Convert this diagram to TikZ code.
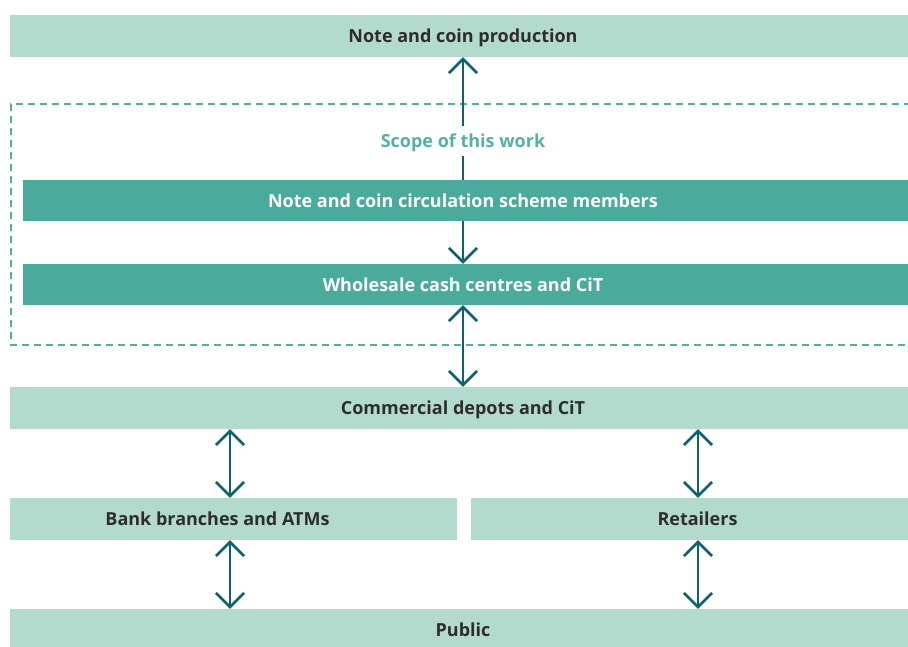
\documentclass[tikz,border=0pt]{standalone}
\usepackage{fontspec}
\setmainfont{Open Sans}
\usepackage{color}
\definecolor{mymint}{RGB}{179,219,205}
\definecolor{myteal}{RGB}{74,170,155}
\definecolor{mydash}{RGB}{78,176,160}
\definecolor{myscope}{RGB}{86,178,160}
\definecolor{myarrow}{RGB}{14,98,112}
\definecolor{mytext}{RGB}{45,45,45}
\usepackage{tikz}
\usetikzlibrary{arrows.meta,positioning,calc}
\tikzstyle{lightbar}=[fill=mymint,rectangle,inner sep=0pt,minimum height=42pt,text height=13pt,text depth=0pt,text=mytext,font=\fontsize{18}{21}\selectfont\bfseries]
\tikzstyle{darkbar}=[fill=myteal,rectangle,inner sep=0pt,minimum height=41pt,text height=13pt,text depth=0pt,text=white,font=\fontsize{18}{21}\selectfont\bfseries]
\tikzstyle{scopelabel}=[fill=white,inner xsep=4pt,inner ysep=8pt,text height=13pt,text depth=0pt,text=myscope,font=\fontsize{18}{21}\selectfont\bfseries]
\tikzstyle{flow}=[draw=myarrow,line width=2.6pt,arrows={-Straight Barb[length=14pt,width=28pt]}]
\tikzstyle{twoway}=[flow,arrows={Straight Barb[length=14pt,width=28pt]-Straight Barb[length=14pt,width=28pt]}]
\tikzstyle{plain}=[draw=myarrow,line width=2.6pt]

\begin{document}
\begin{tikzpicture}[x=1pt,y=-1pt]
\useasboundingbox (0,0) rectangle (908,646);
\clip (0,0) rectangle (908,646);

% scope of this work
\draw[mydash,line width=2.4pt,dash pattern=on 7pt off 5pt] (935,104) -- (11,104) -- (11,345) -- (935,345);

% bars
\node[lightbar,minimum width=906pt] (prod) at (463,36) {Note and coin production};
\node[darkbar,minimum width=893pt] (members) at (469.5,200.5) {\hspace*{-13pt}Note and coin circulation scheme members};
\node[darkbar,minimum width=893pt] (wholesale) at (469.5,284.5) {\hspace*{-13pt}Wholesale cash centres and CiT};
\node[lightbar,minimum width=906pt] (depots) at (463,408) {Commercial depots and CiT};
\node[lightbar,minimum width=447pt] (bank) at (233.5,519) {\hspace*{-32pt}Bank branches and ATMs};
\node[lightbar,minimum width=445pt] (retail) at (693.5,519) {\hspace*{8pt}Retailers};
\node[lightbar,minimum width=906pt] (public) at (463,630) {Public};

\node[scopelabel] (scope) at (463,141) {Scope of this work};

\coordinate (lx) at (230,0);
\coordinate (rx) at (698,0);

% arrows
\draw[plain] (members.north -| scope) -- (scope);
\draw[flow] (scope) -- (prod.south -| scope);
\draw[flow] (members.south -| scope) -- (wholesale.north -| scope);
\draw[twoway] (wholesale.south -| scope) -- (depots.north -| scope);
\draw[twoway] (depots.south -| lx) -- (bank.north -| lx);
\draw[twoway] (bank.south -| lx) -- (public.north -| lx);
\draw[twoway] (depots.south -| rx) -- (retail.north -| rx);
\draw[twoway] (retail.south -| rx) -- (public.north -| rx);
\end{tikzpicture}
\end{document}
